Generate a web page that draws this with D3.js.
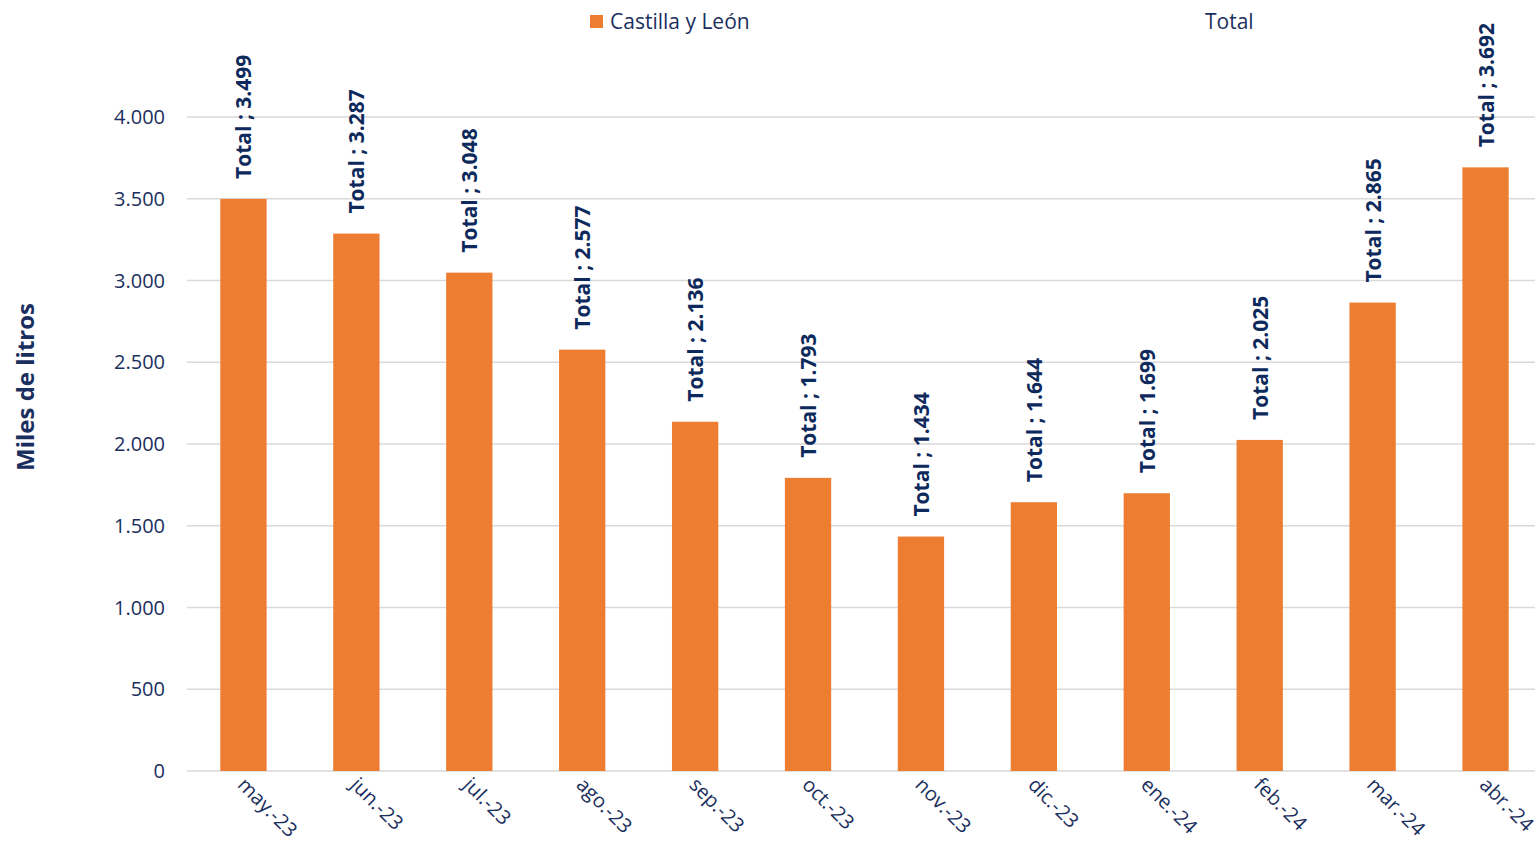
<!DOCTYPE html>
<html><head><meta charset="utf-8">
<script src="https://cdn.jsdelivr.net/npm/d3@7"></script>
<style>body{margin:0;background:#fff;}svg{display:block;font-family:"Open Sans","Noto Sans",sans-serif;}</style>
</head><body>
<svg id="c" width="1535" height="847"></svg>
<script>
const categories = ["may.-23","jun.-23","jul.-23","ago.-23","sep.-23","oct.-23","nov.-23","dic.-23","ene.-24","feb.-24","mar.-24","abr.-24"];
const values = [3499,3287,3048,2577,2136,1793,1434,1644,1699,2025,2865,3692];
const yTicks = [0,500,1000,1500,2000,2500,3000,3500,4000];
const seriesName = "Castilla y León";
const labelPrefix = "Total";

const svg = d3.select("#c");
const navy = "#1b2f5e";
const labelColor = "#0e2a5c";
const orange = "#ed7d31";
const fmt = v => d3.format(",")(v).replace(/,/g, ".");

const x = d3.scaleBand().domain(categories).range([187, 1542]).paddingInner(0.59).paddingOuter(0.295);
const y = d3.scaleLinear().domain([0, 4000]).range([771, 117]);

svg.append("g").selectAll("line").data(yTicks).join("line")
  .attr("x1", 187).attr("x2", 1535)
  .attr("y1", d => y(d)).attr("y2", d => y(d))
  .attr("stroke", "#d9d9d9").attr("stroke-width", 1.5);

svg.append("g").selectAll("text").data(yTicks).join("text")
  .attr("x", 165).attr("y", d => y(d)).attr("dy", "0.35em")
  .attr("text-anchor", "end").attr("fill", navy).attr("font-size", 20)
  .text(d => fmt(d));

svg.append("g").selectAll("rect").data(values).join("rect")
  .attr("x", (d, i) => x(categories[i])).attr("width", x.bandwidth())
  .attr("y", d => y(d)).attr("height", d => y(0) - y(d))
  .attr("fill", orange);

svg.append("g").selectAll("text").data(values).join("text")
  .attr("transform", (d, i) => `translate(${x(categories[i]) + x.bandwidth()/2 + 8},${y(d) - 20}) rotate(-90)`)
  .attr("text-anchor", "start").attr("fill", labelColor)
  .attr("font-size", 21).attr("font-weight", "bold")
  .text(d => `${labelPrefix} ; ${fmt(d)}`);

svg.append("g").selectAll("text").data(categories).join("text")
  .attr("transform", d => `translate(${x(d) + x.bandwidth()/2 - 7},${786}) rotate(45)`)
  .attr("text-anchor", "start").attr("fill", navy).attr("font-size", 20)
  .text(d => d);

svg.append("text")
  .attr("transform", "translate(34,387) rotate(-90)")
  .attr("text-anchor", "middle").attr("fill", navy)
  .attr("font-size", 24).attr("font-weight", "bold")
  .text("Miles de litros");

svg.append("rect").attr("x", 590).attr("y", 15).attr("width", 13).attr("height", 13).attr("fill", orange);
svg.append("text").attr("x", 610).attr("y", 22).attr("dy", "0.35em").attr("fill", navy).attr("font-size", 21).text(seriesName);
svg.append("text").attr("x", 1205).attr("y", 22).attr("dy", "0.35em").attr("fill", navy).attr("font-size", 21).text(labelPrefix);
</script>
</body></html>
